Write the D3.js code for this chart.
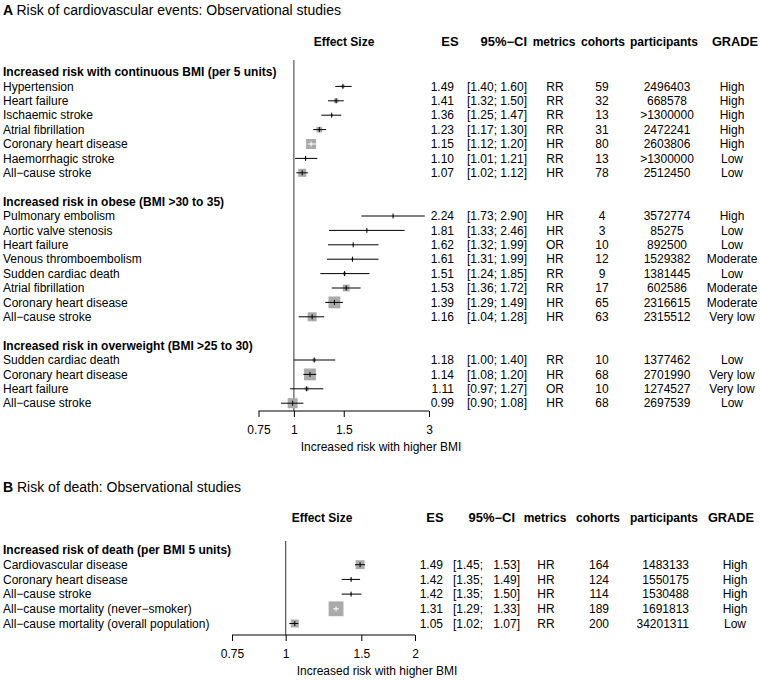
<!DOCTYPE html>
<html>
<head>
<meta charset="utf-8">
<script src="https://cdn.jsdelivr.net/npm/d3@7"></script>
<style>
  body { margin: 0; background: #fff; }
  svg text { font-family: "Liberation Sans", Arial, Helvetica, sans-serif; fill: #000; }
</style>
</head>
<body>
<svg id="chart" width="760" height="682"></svg>
<script>
// ---------- Panel A data ----------
const groupsA = [
  "Increased risk with continuous BMI (per 5 units)",
  "Increased risk in obese (BMI >30 to 35)",
  "Increased risk in overweight (BMI >25 to 30)"
];
const groupOfA = [0,0,0,0,0,0,0, 1,1,1,1,1,1,1,1, 2,2,2,2];
const labelsA = [
  "Hypertension","Heart failure","Ischaemic stroke","Atrial fibrillation",
  "Coronary heart disease","Haemorrhagic stroke","All\u2212cause stroke",
  "Pulmonary embolism","Aortic valve stenosis","Heart failure","Venous thromboembolism",
  "Sudden cardiac death","Atrial fibrillation","Coronary heart disease","All\u2212cause stroke",
  "Sudden cardiac death","Coronary heart disease","Heart failure","All\u2212cause stroke"
];
const esA = [1.49,1.41,1.36,1.23,1.15,1.10,1.07, 2.24,1.81,1.62,1.61,1.51,1.53,1.39,1.16, 1.18,1.14,1.11,0.99];
const loA = [1.40,1.32,1.25,1.17,1.12,1.01,1.02, 1.73,1.33,1.32,1.31,1.24,1.36,1.29,1.04, 1.00,1.08,0.97,0.90];
const hiA = [1.60,1.50,1.47,1.30,1.20,1.21,1.12, 2.90,2.46,1.99,1.99,1.85,1.72,1.49,1.28, 1.40,1.20,1.27,1.08];
const metricsA = ["RR","RR","RR","RR","HR","RR","HR", "HR","HR","OR","HR","RR","RR","HR","HR", "RR","HR","OR","HR"];
const cohortsA = [59,32,13,31,80,13,78, 4,3,10,12,9,17,65,63, 10,68,10,68];
const participantsA = ["2496403","668578",">1300000","2472241","2603806",">1300000","2512450",
  "3572774","85275","892500","1529382","1381445","602586","2316615","2315512",
  "1377462","2701990","1274527","2697539"];
const gradeA = ["High","High","High","High","High","Low","Low",
  "High","Low","Low","Moderate","Low","Moderate","Moderate","Very low",
  "Low","Very low","Very low","Low"];
// relative study weights (box area)
const weightsA = [10,20,5,32,100,4,64, 3,3,3,5,9,45,140,80, 12,140,16,100];
const ticksA = [0.75, 1, 1.5, 3];

// ---------- Panel B data ----------
const groupsB = ["Increased risk of death (per BMI 5 units)"];
const groupOfB = [0,0,0,0,0];
const labelsB = ["Cardiovascular disease","Coronary heart disease","All\u2212cause stroke",
  "All\u2212cause mortality (never\u2212smoker)","All\u2212cause mortality (overall population)"];
const esB = [1.49,1.42,1.42,1.31,1.05];
const loB = [1.45,1.35,1.35,1.29,1.02];
const hiB = [1.53,1.49,1.50,1.33,1.07];
const metricsB = ["HR","HR","HR","HR","RR"];
const cohortsB = [164,124,114,189,200];
const participantsB = ["1483133","1550175","1530488","1691813","34201311"];
const gradeB = ["High","High","High","High","Low"];
const weightsB = [80,4,4,220,64];
const ticksB = [0.75, 1, 1.5, 2];

const axisTitle = "Increased risk with higher BMI";

const svg = d3.select("#chart");
const FS = 12;

// make bold text keep true bold advance widths even if bold face is synthesized
function fixBold(sel) {
  sel.each(function () {
    const wB = this.getComputedTextLength();
    this.style.fontWeight = "normal";
    const wN = this.getComputedTextLength();
    this.style.fontWeight = "bold";
    if (wB < wN * 1.03) {
      this.setAttribute("textLength", (wN * 1.08).toFixed(2));
      this.setAttribute("lengthAdjust", "spacingAndGlyphs");
    }
  });
}

function buildRows(groups, groupOf, n) {
  const rows = [];
  let g = -1;
  for (let i = 0; i < n; i++) {
    if (groupOf[i] !== g) {
      if (g !== -1) rows.push({type: "blank"});
      g = groupOf[i];
      rows.push({type: "header", text: groups[g]});
    }
    rows.push({type: "data", i});
  }
  return rows;
}

function panel(cfg) {
  const n = cfg.labels.length;
  const rows = buildRows(cfg.groups, cfg.groupOf, n);
  rows.forEach((r, k) => r.k = k);
  const y = d3.scaleLinear().domain([0, rows.length - 1]).range(cfg.yRange);
  const x = d3.scaleLog().domain([cfg.ticks[0], cfg.ticks[cfg.ticks.length - 1]]).range(cfg.xRange);
  const side = d3.scaleSqrt().domain([0, 100]).range([0, cfg.sideMax]);
  const g = svg.append("g");

  // title
  const t = g.append("text").attr("x", 3).attr("y", cfg.titleY).attr("dy", "0.35em")
    .style("font-size", "14px");
  t.append("tspan").style("font-weight", "bold").text(cfg.titleLetter + " ");
  t.append("tspan").text(cfg.title);

  // column headers
  const hdr = g.append("g").style("font-size", FS + "px");
  cfg.headers.forEach(h => {
    hdr.append("text").attr("x", h.x).attr("y", cfg.headerY).attr("dy", "0.35em")
      .attr("text-anchor", h.anchor).style("font-weight", "bold").text(h.text);
  });
  fixBold(hdr.selectAll("text"));

  // labels
  const lab = g.append("g").style("font-size", FS + "px");
  rows.forEach(r => {
    if (r.type === "header") {
      lab.append("text").attr("class", "ghead").attr("x", 3).attr("y", y(r.k)).attr("dy", "0.35em")
        .style("font-weight", "bold").text(r.text);
    } else if (r.type === "data") {
      lab.append("text").attr("x", 3).attr("y", y(r.k)).attr("dy", "0.35em").text(cfg.labels[r.i]);
    }
  });
  fixBold(lab.selectAll("text.ghead"));

  // reference line at 1
  g.append("line").attr("x1", x(1)).attr("x2", x(1))
    .attr("y1", cfg.refTop).attr("y2", cfg.axisY)
    .attr("stroke", "#555").attr("stroke-width", 1.2);

  // marks
  const dataRows = rows.filter(r => r.type === "data");
  const marks = g.append("g");
  dataRows.forEach(r => {
    const i = r.i, yy = y(r.k);
    const s = side(cfg.weights[i]);
    const xl = x(cfg.lo[i]), xh = x(cfg.hi[i]), xe = x(cfg.es[i]);
    const inside = (xh - xl) < s;
    marks.append("rect").attr("x", xe - s / 2).attr("y", yy - s / 2)
      .attr("width", s).attr("height", s).attr("fill", "#aaaaaa");
    const col = inside ? "#fff" : "#000";
    marks.append("line").attr("x1", xl).attr("x2", xh).attr("y1", yy).attr("y2", yy)
      .attr("stroke", col).attr("stroke-width", 1);
    marks.append("line").attr("x1", xe).attr("x2", xe).attr("y1", yy - 2.5).attr("y2", yy + 2.5)
      .attr("stroke", col).attr("stroke-width", 1);
  });

  // axis
  const axis = d3.axisBottom(x).tickValues(cfg.ticks).tickFormat(d => String(d))
    .tickSize(6).tickSizeOuter(0);
  const ag = g.append("g").attr("transform", `translate(0,${cfg.axisY})`).call(axis);
  ag.select(".domain").attr("stroke", "#000").attr("d", `M${x.range()[0]},0H${x.range()[1]}`);
  ag.selectAll(".tick line").attr("stroke", "#000");
  ag.selectAll(".tick text").style("font-size", FS + "px").style("font-family", '"Liberation Sans", Arial, sans-serif')
    .attr("y", 14).attr("dy", "0.71em").attr("fill", "#000");
  g.append("text").attr("x", cfg.axisTitleX).attr("y", cfg.axisY + 36).attr("dy", "0.35em")
    .style("font-size", FS + "px").attr("text-anchor", "middle").text(axisTitle);

  // table columns
  const tab = g.append("g").style("font-size", FS + "px");
  const fmt = d3.format(".2f");
  dataRows.forEach(r => {
    const i = r.i, yy = y(r.k);
    tab.append("text").attr("x", cfg.col.es).attr("y", yy).attr("dy", "0.35em")
      .attr("text-anchor", "end").text(fmt(cfg.es[i]));
    if (cfg.splitCI) {
      tab.append("text").attr("x", cfg.col.ciL).attr("y", yy).attr("dy", "0.35em")
        .attr("text-anchor", "start").text("[" + fmt(cfg.lo[i]) + ";");
      tab.append("text").attr("x", cfg.col.ciR).attr("y", yy).attr("dy", "0.35em")
        .attr("text-anchor", "end").text(fmt(cfg.hi[i]) + "]");
    } else {
      tab.append("text").attr("x", cfg.col.ciR).attr("y", yy).attr("dy", "0.35em")
        .attr("text-anchor", "end").text("[" + fmt(cfg.lo[i]) + "; " + fmt(cfg.hi[i]) + "]");
    }
    tab.append("text").attr("x", cfg.col.met).attr("y", yy).attr("dy", "0.35em")
      .attr("text-anchor", "middle").text(cfg.metrics[i]);
    tab.append("text").attr("x", cfg.col.coh).attr("y", yy).attr("dy", "0.35em")
      .attr("text-anchor", "middle").text(cfg.cohorts[i]);
    tab.append("text").attr("x", cfg.col.par).attr("y", yy).attr("dy", "0.35em")
      .attr("text-anchor", cfg.col.parAnchor).text(cfg.participants[i]);
    tab.append("text").attr("x", cfg.col.gra).attr("y", yy).attr("dy", "0.35em")
      .attr("text-anchor", "middle").text(cfg.grade[i]);
  });
}

panel({
  titleLetter: "A", title: "Risk of cardiovascular events: Observational studies", titleY: 10,
  groups: groupsA, groupOf: groupOfA, labels: labelsA, es: esA, lo: loA, hi: hiA,
  metrics: metricsA, cohorts: cohortsA, participants: participantsA, grade: gradeA,
  weights: weightsA, ticks: ticksA,
  xRange: [258.5, 429], yRange: [72, 403.2], sideMax: 10,
  refTop: 60, axisY: 411, axisTitleX: 381, headerY: 42,
  headers: [
    {text: "Effect Size", x: 344, anchor: "middle"},
    {text: "ES", x: 450, anchor: "middle"},
    {text: "95%\u2212CI", x: 527, anchor: "end"},
    {text: "metrics", x: 554, anchor: "middle"},
    {text: "cohorts", x: 603, anchor: "middle"},
    {text: "participants", x: 664, anchor: "middle"},
    {text: "GRADE", x: 735, anchor: "middle"}
  ],
  splitCI: false,
  col: {es: 454, ciR: 527, met: 555, coh: 602, par: 667, parAnchor: "middle", gra: 732}
});

panel({
  titleLetter: "B", title: "Risk of death: Observational studies", titleY: 487,
  groups: groupsB, groupOf: groupOfB, labels: labelsB, es: esB, lo: loB, hi: hiB,
  metrics: metricsB, cohorts: cohortsB, participants: participantsB, grade: gradeB,
  weights: weightsB, ticks: ticksB,
  xRange: [232, 415], yRange: [550, 623.5], sideMax: 10,
  refTop: 541, axisY: 635, axisTitleX: 377, headerY: 518,
  headers: [
    {text: "Effect Size", x: 322, anchor: "middle"},
    {text: "ES", x: 435, anchor: "middle"},
    {text: "95%\u2212CI", x: 515, anchor: "end"},
    {text: "metrics", x: 545, anchor: "middle"},
    {text: "cohorts", x: 598, anchor: "middle"},
    {text: "participants", x: 664, anchor: "middle"},
    {text: "GRADE", x: 731, anchor: "middle"}
  ],
  splitCI: true,
  col: {es: 443, ciL: 453, ciR: 520, met: 546, coh: 599, par: 689, parAnchor: "end", gra: 735}
});
</script>
</body>
</html>
